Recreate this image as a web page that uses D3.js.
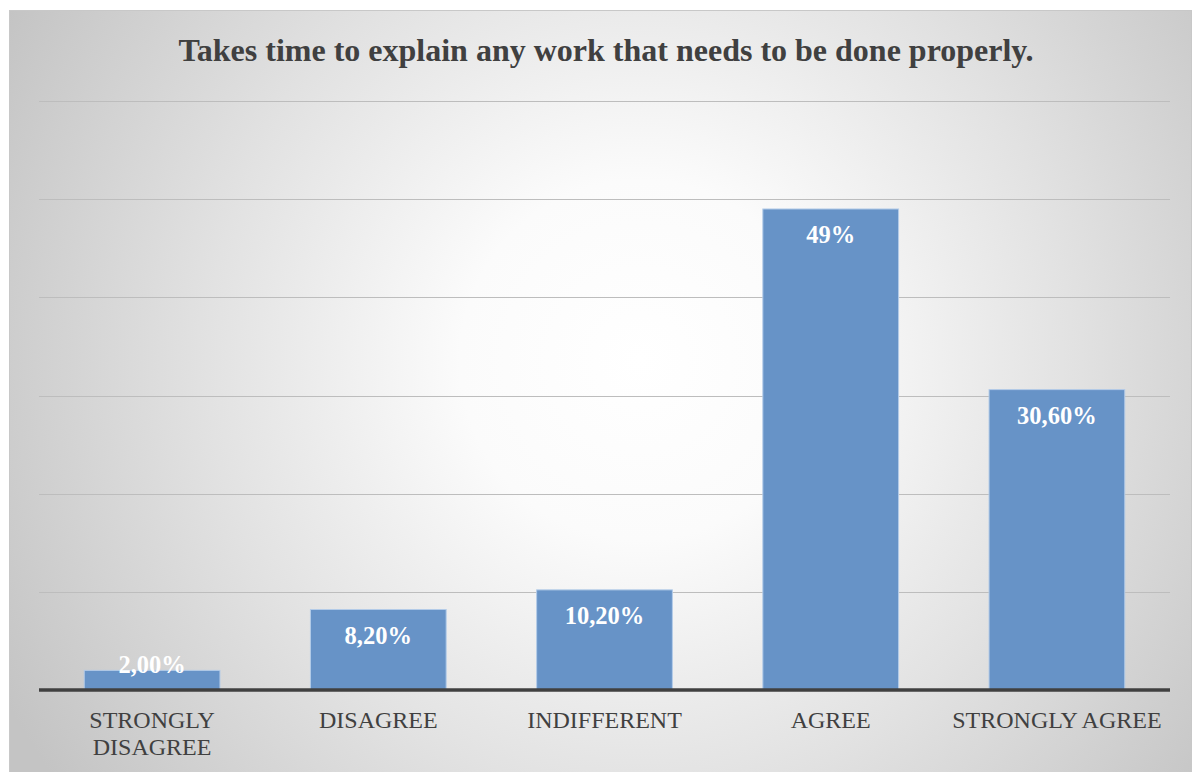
<!DOCTYPE html>
<html>
<head>
<meta charset="utf-8">
<script src="https://cdn.jsdelivr.net/npm/d3@7"></script>
<style>
  html, body { margin: 0; padding: 0; background: #ffffff; }
  svg { display: block; }
</style>
</head>
<body>
<svg id="chart" width="1193" height="772"></svg>
<script>
// Survey responses
const categories = ["STRONGLY DISAGREE", "DISAGREE", "INDIFFERENT", "AGREE", "STRONGLY AGREE"];
const categoryLines = [["STRONGLY", "DISAGREE"], ["DISAGREE"], ["INDIFFERENT"], ["AGREE"], ["STRONGLY AGREE"]];
const values = [2.0, 8.2, 10.2, 49, 30.6];
const valueLabels = ["2,00%", "8,20%", "10,20%", "49%", "30,60%"];
const gridTicks = [0, 10, 20, 30, 40, 50, 60];
const title = "Takes time to explain any work that needs to be done properly.";

const svg = d3.select("#chart");
const frame = { x: 9.5, y: 10.5, w: 1182, h: 770 };
const plot = { left: 39, right: 1170, top: 101, bottom: 690 };
const serif = "'Liberation Serif', 'Times New Roman', serif";

// Background gradient
const defs = svg.append("defs");
const grad = defs.append("radialGradient")
  .attr("id", "bg")
  .attr("gradientUnits", "userSpaceOnUse")
  .attr("cx", 640).attr("cy", 360).attr("r", 720);
grad.append("stop").attr("offset", "0%").attr("stop-color", "#ffffff");
grad.append("stop").attr("offset", "25%").attr("stop-color", "#fbfbfb");
grad.append("stop").attr("offset", "60%").attr("stop-color", "#e2e2e2");
grad.append("stop").attr("offset", "100%").attr("stop-color", "#c4c4c4");

svg.append("rect")
  .attr("x", frame.x).attr("y", frame.y)
  .attr("width", frame.w).attr("height", frame.h)
  .attr("fill", "url(#bg)")
  .attr("stroke", "#c8c8c8").attr("stroke-width", 1);

const x = d3.scaleBand()
  .domain(categories)
  .range([plot.left, plot.right])
  .paddingInner(0.4)
  .paddingOuter(0.2);

const y = d3.scaleLinear()
  .domain([0, 60])
  .range([plot.bottom, plot.top]);

// Gridlines
svg.append("g")
  .selectAll("line")
  .data(gridTicks.filter(t => t > 0))
  .join("line")
  .attr("x1", plot.left).attr("x2", plot.right)
  .attr("y1", d => Math.round(y(d)) + 0.5)
  .attr("y2", d => Math.round(y(d)) + 0.5)
  .attr("stroke", "#bdbdbd").attr("stroke-width", 1);

// Bars
const data = categories.map((c, i) => ({ c, v: values[i], label: valueLabels[i], lines: categoryLines[i] }));

svg.append("g")
  .selectAll("rect")
  .data(data)
  .join("rect")
  .attr("x", d => x(d.c))
  .attr("y", d => y(d.v))
  .attr("width", x.bandwidth())
  .attr("height", d => y(0) - y(d.v))
  .attr("fill", "#6793c7")
  .attr("stroke", "#b3cbe8")
  .attr("stroke-width", 1);

// Baseline
svg.append("line")
  .attr("x1", plot.left).attr("x2", plot.right)
  .attr("y1", y(0)).attr("y2", y(0))
  .attr("stroke", "#404040").attr("stroke-width", 3.5);

// Value labels inside the bar ends
svg.append("g")
  .selectAll("text")
  .data(data)
  .join("text")
  .attr("x", d => x(d.c) + x.bandwidth() / 2)
  .attr("y", d => Math.min(y(d.v) + 34, y(0) - 17))
  .attr("text-anchor", "middle")
  .attr("font-family", serif)
  .attr("font-weight", "bold")
  .attr("font-size", 24.5)
  .attr("fill", "#ffffff")
  .text(d => d.label);

// Category labels
const catG = svg.append("g")
  .selectAll("text")
  .data(data)
  .join("text")
  .attr("x", d => x(d.c) + x.bandwidth() / 2)
  .attr("y", 728)
  .attr("text-anchor", "middle")
  .attr("font-family", serif)
  .attr("font-size", 24)
  .attr("fill", "#404040");
catG.selectAll("tspan")
  .data(d => d.lines.map(l => ({ l, x: x(d.c) + x.bandwidth() / 2 })))
  .join("tspan")
  .attr("x", t => t.x)
  .attr("dy", (t, i) => i === 0 ? 0 : 27)
  .text(t => t.l);

// Title
svg.append("text")
  .attr("x", 606)
  .attr("y", 61)
  .attr("text-anchor", "middle")
  .attr("font-family", serif)
  .attr("font-weight", "bold")
  .attr("font-size", 32)
  .attr("fill", "#404040")
  .text(title);
</script>
</body>
</html>
